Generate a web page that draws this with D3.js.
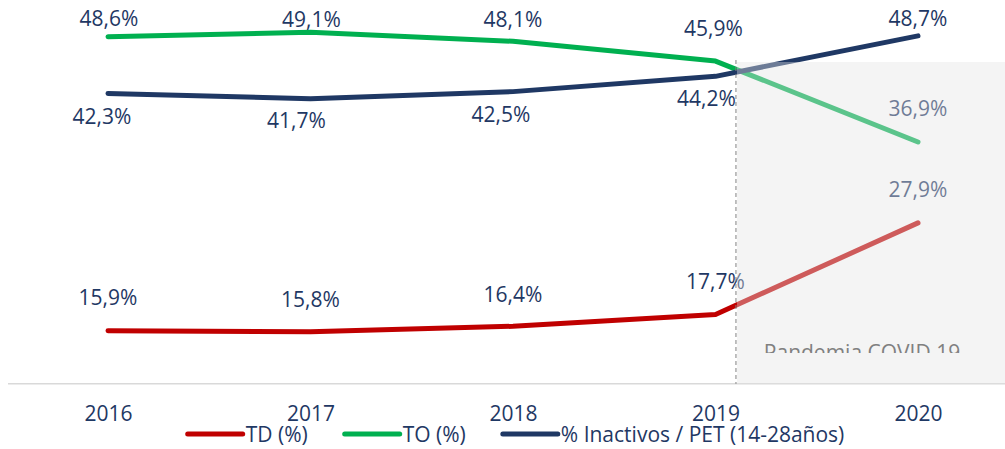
<!DOCTYPE html>
<html>
<head>
<meta charset="utf-8">
<script src="https://cdn.jsdelivr.net/npm/d3@7"></script>
<style>
  html, body { margin: 0; padding: 0; background: #fff; }
  svg text { font-family: "Open Sans", "Noto Sans", sans-serif; }
</style>
</head>
<body>
<div id="chart"></div>
<script>
const SVG_WIDTH = 1005;
const SVG_HEIGHT = 449;
const FONT_SIZE = 21;
const TEXT_COLOR = "#1f3864";

// data
const YEARS = ["2016", "2017", "2018", "2019", "2020"];
const TD = [15.9, 15.8, 16.4, 17.7, 27.9];
const TO = [48.6, 49.1, 48.1, 45.9, 36.9];
const INACTIVOS = [42.3, 41.7, 42.5, 44.2, 48.7];
const SERIES_NAMES = ["TD (%)", "TO (%)", "% Inactivos / PET (14-28años)"];
const SERIES_COLORS = ["#c00000", "#00b050", "#1f3864"];
const SHADE_LABEL = "Pandemia COVID 19";

// label nudges (px) relative to each point, as placed in the original
const LABEL_DX = [
    [0, 0, 0, 0, 0],
    [1, 1, 0, -2, 0],
    [-6, -14, -12, -9, 0]
];
const LABEL_DY = [
    [-33, -32, -32, -33, -33],
    [-18, -13, -22, -33, -34],
    [23, 22, 23, 22, -17]
];

const SERIES = [TD, TO, INACTIVOS];

const svg = d3.select("#chart")
    .append("svg")
    .attr("width", SVG_WIDTH)
    .attr("height", SVG_HEIGHT);

const xScale = d3.scalePoint()
    .domain(YEARS)
    .range([108, 918]);

const yScale = d3.scaleLinear()
    .domain([10, 50])
    .range([383.8, 24.2]);

const AXIS_Y = yScale(10);
const SHADE_X0 = xScale("2019") + 0.106 * xScale.step();
const SHADE_TOP = 62;

// baseline
svg.append("line")
    .attr("x1", 8)
    .attr("x2", SVG_WIDTH)
    .attr("y1", AXIS_Y)
    .attr("y2", AXIS_Y)
    .attr("stroke", "#d9d9d9")
    .attr("stroke-width", 1.5);

// x axis labels
const xAxis = d3.axisBottom(xScale).tickSize(0).tickPadding(0);
svg.append("g")
    .attr("transform", `translate(0,${AXIS_Y})`)
    .call(xAxis)
    .call(g => g.select(".domain").remove())
    .selectAll("text")
    .attr("y", 30)
    .attr("dy", "0.36em")
    .attr("font-size", FONT_SIZE)
    .attr("font-family", "Open Sans")
    .attr("fill", TEXT_COLOR);

const line = d3.line()
    .x((d, i) => xScale(YEARS[i]))
    .y(d => yScale(d));

SERIES.forEach((values, s) => {
    svg.append("path")
        .datum(values)
        .attr("d", line)
        .attr("fill", "none")
        .attr("stroke", SERIES_COLORS[s])
        .attr("stroke-width", 5)
        .attr("stroke-linecap", "round")
        .attr("stroke-linejoin", "round");
});

SERIES.forEach((values, s) => {
    svg.append("g")
        .selectAll("text")
        .data(values)
        .join("text")
        .attr("x", (d, i) => xScale(YEARS[i]) + LABEL_DX[s][i])
        .attr("y", (d, i) => yScale(d) + LABEL_DY[s][i])
        .attr("dy", "0.36em")
        .attr("text-anchor", "middle")
        .attr("font-size", FONT_SIZE)
        .attr("fill", TEXT_COLOR)
        .text(d => d.toFixed(1).replace(".", ",") + "%");
});

// pandemic shading drawn over the lines
svg.append("rect")
    .attr("x", SHADE_X0)
    .attr("y", SHADE_TOP)
    .attr("width", SVG_WIDTH - SHADE_X0)
    .attr("height", AXIS_Y - SHADE_TOP)
    .attr("fill", "rgb(227,227,227)")
    .attr("fill-opacity", 0.4);

svg.append("clipPath")
    .attr("id", "shade-clip")
    .append("rect")
    .attr("x", SHADE_X0)
    .attr("y", SHADE_TOP)
    .attr("width", SVG_WIDTH - SHADE_X0)
    .attr("height", 291);

svg.append("text")
    .attr("clip-path", "url(#shade-clip)")
    .attr("x", 862)
    .attr("y", 360)
    .attr("text-anchor", "middle")
    .attr("font-size", FONT_SIZE)
    .attr("fill", "#808080")
    .text(SHADE_LABEL);

svg.append("line")
    .attr("x1", SHADE_X0 - 1)
    .attr("x2", SHADE_X0 - 1)
    .attr("y1", 60)
    .attr("y2", AXIS_Y)
    .attr("stroke", "#808080")
    .attr("stroke-width", 1)
    .attr("stroke-dasharray", "4,3");

// legend
const LEGEND_Y = 434;
const legend = svg.append("g").attr("class", "legend");
let cursor = 0;
SERIES_NAMES.forEach((name, s) => {
    const item = legend.append("g").attr("transform", `translate(${cursor},0)`);
    item.append("line")
        .attr("x1", 0)
        .attr("x2", 55)
        .attr("y1", LEGEND_Y)
        .attr("y2", LEGEND_Y)
        .attr("stroke", SERIES_COLORS[s])
        .attr("stroke-width", 5)
        .attr("stroke-linecap", "round");
    const t = item.append("text")
        .attr("x", 58)
        .attr("y", LEGEND_Y)
        .attr("dy", "0.36em")
        .attr("font-size", FONT_SIZE)
        .attr("fill", TEXT_COLOR)
        .text(name);
    cursor += 58 + t.node().getComputedTextLength() + 37;
});
const legendWidth = cursor - 37;
legend.attr("transform", `translate(${516 - legendWidth / 2},0)`);
</script>
</body>
</html>
